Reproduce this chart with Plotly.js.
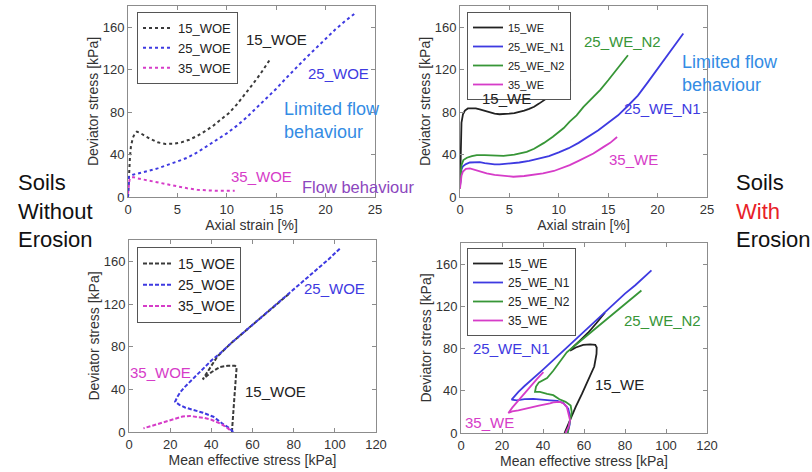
<!DOCTYPE html>
<html>
<head>
<meta charset="utf-8">
<script src="https://cdn.plot.ly/plotly-3.0.1.min.js"></script>
<style>html,body{margin:0;padding:0;background:#fff;}#chart{width:812px;height:472px;}</style>
</head>
<body>
<div id="chart"></div>
<script>
// ---- Top-left: deviator stress vs axial strain, soils without erosion ----
const woe15_strain = [0,0.05,0.1,0.2,0.3,0.5,0.7,0.9,1.2,1.6,2.2,3,3.8,4.6,5.4,6.2,7,7.8,8.6,9.4,10.2,11,11.8,12.6,13.4,14.4];
const woe15_q      = [0,15,25,38,48,56,60,61.5,60.5,58,55,51.5,50,50.2,51.5,54,57.5,62,67,73,79,87,96,106,116,130];
const woe25_strain = [0,0.02,0.1,0.5,1,2,3,4,5,6,7,8,9,10,11,12,13,14,15,16,17,18,19,20,21,22,23.1];
const woe25_q      = [0,12,19,21,22,24.5,27,30,33.5,37,42,48,54,60,67,75,84,93,102,112,122,131,140,149,158,166,174];
const woe35_strain = [0,0.05,0.15,0.3,0.6,1,2,3,4,5,6,7,8,9,10,10.8];
const woe35_q      = [3,10,16,18.5,18.5,17.5,15.5,13.5,11.5,10,8.2,6.8,6.2,5.8,5.8,6];

// ---- Top-right: deviator stress vs axial strain, soils with erosion ----
const we15_strain   = [0,0.03,0.08,0.15,0.3,0.5,0.8,1.2,1.6,2,2.5,3,3.5,4,4.5,5,5.5,6,6.5,7,7.5,8,8.5,9,9.5,10,10.5,11,11.2];
const we15_q        = [8,30,55,70,78,81.5,83.5,83.8,83.5,82.5,81,79.5,78.5,78,78,78.5,79,80,81.5,83,85,88,91,94,97.5,101,105,109,111];
const we25n1_strain = [0,0.05,0.15,0.3,0.6,1,1.5,2,2.5,3,3.5,4,5,6,7,8,9,10,11,12,13,14,15,16,17,18,19,20,21,22,22.6];
const we25n1_q      = [10,20,26,29,31,32.5,33,32.8,32,31.3,30.8,30.8,31.5,32.5,34,36,38.5,42,46,51,57,63,70,77,86,95.5,108,121,134,146,154];
const we25n2_strain = [0,0.05,0.15,0.34,0.7,1.2,1.7,2.5,3.5,4.4,5.5,6.75,7.5,8.5,9.4,10.5,11.1,11.8,12.5,13.5,14.2,15,16,16.5,17];
const we25n2_q      = [10,22,30,34.8,37,38.5,39.5,39.5,39,38.8,40,42.6,45.5,51,56.8,65,71,77,85,94.4,101,110,122,128,133.6];
const we35_strain   = [0,0.05,0.15,0.3,0.6,1,1.5,2,2.7,3.5,4.5,5.4,6.5,7.5,8.4,9.5,10.5,11.1,12,13,13.5,14.5,15.2,15.9];
const we35_q        = [8,14,20,24,26.5,27,25.5,24,22.3,20.8,19.6,19.1,19.8,21,22.3,24.5,27.5,30,34,38.5,41,47,51,56.5];

// ---- Bottom-left: deviator stress vs mean effective stress, without erosion ----
const woe15_p  = [50,50.3,50.8,51.3,51.8,52.3,51.5,48,44.2,40,35.8,38,40.5,43,50,57,63,70,77,78];
const woe15_qp = [0,10,22,35,48,61,62,62,61,56,49.3,56,63,71,84,95.5,105.5,117,129,130];
const woe25_p  = [50.6,49,46,41,36,31,27.2,24.5,22.4,23.5,25,27,30,33,36,40,45,50,57,63,70,80,90,97,103];
const woe25_qp = [0,3.4,7,14.3,18,21,23,25.5,28.4,33,37.5,42,48,54,60,67,75,84,95.5,105.5,117,134,151,162,173];
const woe35_p  = [49,47,44.2,40,36.1,32,29.6,26,20,15,10,7];
const woe35_qp = [2,5,8.1,11.5,13.4,14.8,15,14.5,11.2,8.5,5.5,3.4];

// ---- Bottom-right: deviator stress vs mean effective stress, with erosion ----
const we15_p    = [50.5,53,56,59,62,65,66.1,66.2,65.5,63,59.6,56,53.2,55,58,62,66,70.2];
const we15_qp   = [0,12,25,37,50,63,75,81,83.5,84,83.5,81,78,82,87.5,95,104,114];
const we25n1_p  = [52,53,53.2,52.3,49.9,47,43.4,39,35.3,31,27.2,24.7,26,28,31,35,40,45,50,55,60,65,70,75,80,85,90,92.9];
const we25n1_qp = [0,8,15,23,28.5,30.5,31,32,32.3,32,31,31.7,35,39,44.5,51,60,69,78,87,96,105,114,123,132,140,149,154];
const we25n2_p  = [52,53,54,53.5,51,48,45,42,38.5,36.1,36.6,38,40,42,45,48,51.6,55,60,65,70,75,80,84,88];
const we25n2_qp = [0,10,20,26,29.5,32,35.8,37,38.9,38.9,44,48,50,52,59,67,76.5,82,90,98,106,114,122,128,135];
const we35_p    = [51,52.5,53.2,52.5,51.6,50,48.3,45,43.4,38,32,28,25,23.1,25,28,31,34,37,40.2];
const we35_qp   = [0,6,12,19,24.8,28,29.5,29,28,26,23,21.5,20.5,19,24,31,38,45,51,57.7];

const names_woe = ['15_WOE','25_WOE','35_WOE'];
const names_we  = ['15_WE','25_WE_N1','25_WE_N2','35_WE'];
const strainTicks = [0,5,10,15,20,25];
const pTicks = [0,20,40,60,80,100,120];
const qTicks = [0,40,80,120,160];

const FONT = 'Liberation Sans, Arial, sans-serif';
const C_BLACK = '#3a3a3a', C_BLUE = 'rgb(62,58,225)', C_MAG = 'rgb(214,60,200)', C_GREEN = 'rgb(55,150,55)', C_K2 = '#222';
const C_LIMITED = 'rgb(52,140,228)', C_FLOW = 'rgb(140,70,190)';

function dashed(x, y, name, color, xa, ya, lg, dash) {
  return {x, y, name, type:'scatter', mode:'lines', xaxis:xa, yaxis:ya, legend:lg,
          line:{color, width:2, dash}};
}
function solid(x, y, name, color, xa, ya, lg) {
  return {x, y, name, type:'scatter', mode:'lines', xaxis:xa, yaxis:ya, legend:lg,
          line:{color, width:1.8}};
}

const traces = [
  dashed(woe15_strain, woe15_q, names_woe[0], C_BLACK, 'x', 'y', 'legend', '3px,3px'),
  dashed(woe25_strain, woe25_q, names_woe[1], C_BLUE, 'x', 'y', 'legend', '3px,3px'),
  dashed(woe35_strain, woe35_q, names_woe[2], C_MAG, 'x', 'y', 'legend', '3px,3px'),
  solid(we15_strain, we15_q, names_we[0], C_K2, 'x2', 'y2', 'legend2'),
  solid(we25n1_strain, we25n1_q, names_we[1], C_BLUE, 'x2', 'y2', 'legend2'),
  solid(we25n2_strain, we25n2_q, names_we[2], C_GREEN, 'x2', 'y2', 'legend2'),
  solid(we35_strain, we35_q, names_we[3], C_MAG, 'x2', 'y2', 'legend2'),
  dashed(woe15_p, woe15_qp, names_woe[0], C_BLACK, 'x3', 'y3', 'legend3', '4px,2px'),
  dashed(woe25_p, woe25_qp, names_woe[1], C_BLUE, 'x3', 'y3', 'legend3', '4px,2px'),
  dashed(woe35_p, woe35_qp, names_woe[2], C_MAG, 'x3', 'y3', 'legend3', '4px,2px'),
  solid(we15_p, we15_qp, names_we[0], C_K2, 'x4', 'y4', 'legend4'),
  solid(we25n1_p, we25n1_qp, names_we[1], C_BLUE, 'x4', 'y4', 'legend4'),
  solid(we25n2_p, we25n2_qp, names_we[2], C_GREEN, 'x4', 'y4', 'legend4'),
  solid(we35_p, we35_qp, names_we[3], C_MAG, 'x4', 'y4', 'legend4')
];

const W = 812, H = 472;
function xd(a, b) { return [a / W, b / W]; }
function yd(top, bottom) { return [1 - bottom / H, 1 - top / H]; }

function axis(domain, range, tickvals, anchor, title, standoff) {
  return {domain, range, tickvals, anchor, showline:true, mirror:'allticks',
          linecolor:'#8c8c8c', linewidth:1, ticks:'inside', ticklen:4, tickcolor:'#8c8c8c',
          showgrid:false, zeroline:false, fixedrange:true,
          tickfont:{family:FONT, size:13, color:'#333'},
          title:{text:title, standoff, font:{family:FONT, size:14, color:'#333'}}};
}

function legendBox(x, y, size) {
  return {x, y, xref:'paper', yref:'paper', xanchor:'left', yanchor:'top',
          bgcolor:'#fff', bordercolor:'#555', borderwidth:1,
          font:{family:FONT, size, color:'#222'}, itemwidth:30, tracegroupgap:0};
}

function ann(text, x, y, xref, yref, color, size, extra) {
  return Object.assign({text, x, y, xref, yref, showarrow:false,
          font:{family:FONT, size, color}}, extra || {});
}

const annotations = [
  ann('15_WOE', 15.0, 148, 'x', 'y', '#222', 15),
  ann('25_WOE', 21.3, 116, 'x', 'y', C_BLUE, 15),
  ann('Limited flow<br>behaviour', 15.6, 72.5, 'x', 'y', C_LIMITED, 18, {xanchor:'left', align:'left'}),
  ann('35_WOE', 13.5, 19, 'x', 'y', C_MAG, 15),
  ann('Flow behaviour', 23.3, 9.4, 'x', 'y', C_FLOW, 16.5),
  ann('15_WE', 4.7, 93, 'x2', 'y2', '#222', 15),
  ann('25_WE_N2', 16.45, 147, 'x2', 'y2', C_GREEN, 15),
  ann('25_WE_N1', 20.5, 83.5, 'x2', 'y2', C_BLUE, 15),
  ann('35_WE', 17.6, 35.5, 'x2', 'y2', C_MAG, 15),
  ann('Limited flow<br>behaviour', 22.3, 116, 'x2', 'y2', C_LIMITED, 18, {xanchor:'left', align:'left'}),
  ann('25_WOE', 99.9, 134.4, 'x3', 'y3', C_BLUE, 15),
  ann('35_WOE', 15.5, 55.5, 'x3', 'y3', C_MAG, 15),
  ann('15_WOE', 71, 37.7, 'x3', 'y3', '#222', 15),
  ann('25_WE_N1', 24.4, 79.7, 'x4', 'y4', C_BLUE, 15),
  ann('25_WE_N2', 98.3, 106.4, 'x4', 'y4', C_GREEN, 15),
  ann('15_WE', 77.3, 46.1, 'x4', 'y4', '#222', 15),
  ann('35_WE', 14.1, 9.7, 'x4', 'y4', C_MAG, 15),
  ann('Soils<br>Without<br>Erosion', 16 / W, 1 - 211 / H, 'paper', 'paper', '#111', 22, {xanchor:'left', align:'left'}),
  ann('Soils<br><span style="color:rgb(232,32,40)">With</span><br>Erosion', 734 / W, 1 - 211 / H, 'paper', 'paper', '#111', 22, {xanchor:'left', align:'left'})
];

const layout = {
  width:W, height:H, margin:{l:0, r:0, t:0, b:0},
  paper_bgcolor:'#fff', plot_bgcolor:'#fff',
  font:{family:FONT, color:'#333'},
  xaxis:  axis(xd(128, 375), [0, 25], strainTicks, 'y', 'Axial strain [%]', 1),
  yaxis:  axis(yd(6, 197), [0, 180], qTicks, 'x', 'Deviator stress [kPa]', 0),
  xaxis2: axis(xd(460, 707), [0, 25], strainTicks, 'y2', 'Axial strain [%]', 1),
  yaxis2: axis(yd(6, 197), [0, 180], qTicks, 'x2', 'Deviator stress [kPa]', 0),
  xaxis3: axis(xd(129, 376), [0, 120], pTicks, 'y3', 'Mean effective stress [kPa]', 3),
  yaxis3: axis(yd(240, 432), [0, 180], qTicks, 'x3', 'Deviator stress [kPa]', 0),
  xaxis4: axis(xd(461, 707), [0, 120], pTicks, 'y4', 'Mean effective stress [kPa]', 3),
  yaxis4: axis(yd(243, 433), [0, 180], qTicks, 'x4', 'Deviator stress [kPa]', 0),
  legend:  legendBox(137 / W, 1 - 12 / H, 13),
  legend2: legendBox(467 / W, 1 - 12 / H, 11),
  legend3: legendBox(137 / W, 1 - 247 / H, 14),
  legend4: legendBox(467 / W, 1 - 248 / H, 12),
  annotations,
  showlegend:true
};

Plotly.newPlot('chart', traces, layout, {displayModeBar:false, staticPlot:true});
</script>
</body>
</html>
